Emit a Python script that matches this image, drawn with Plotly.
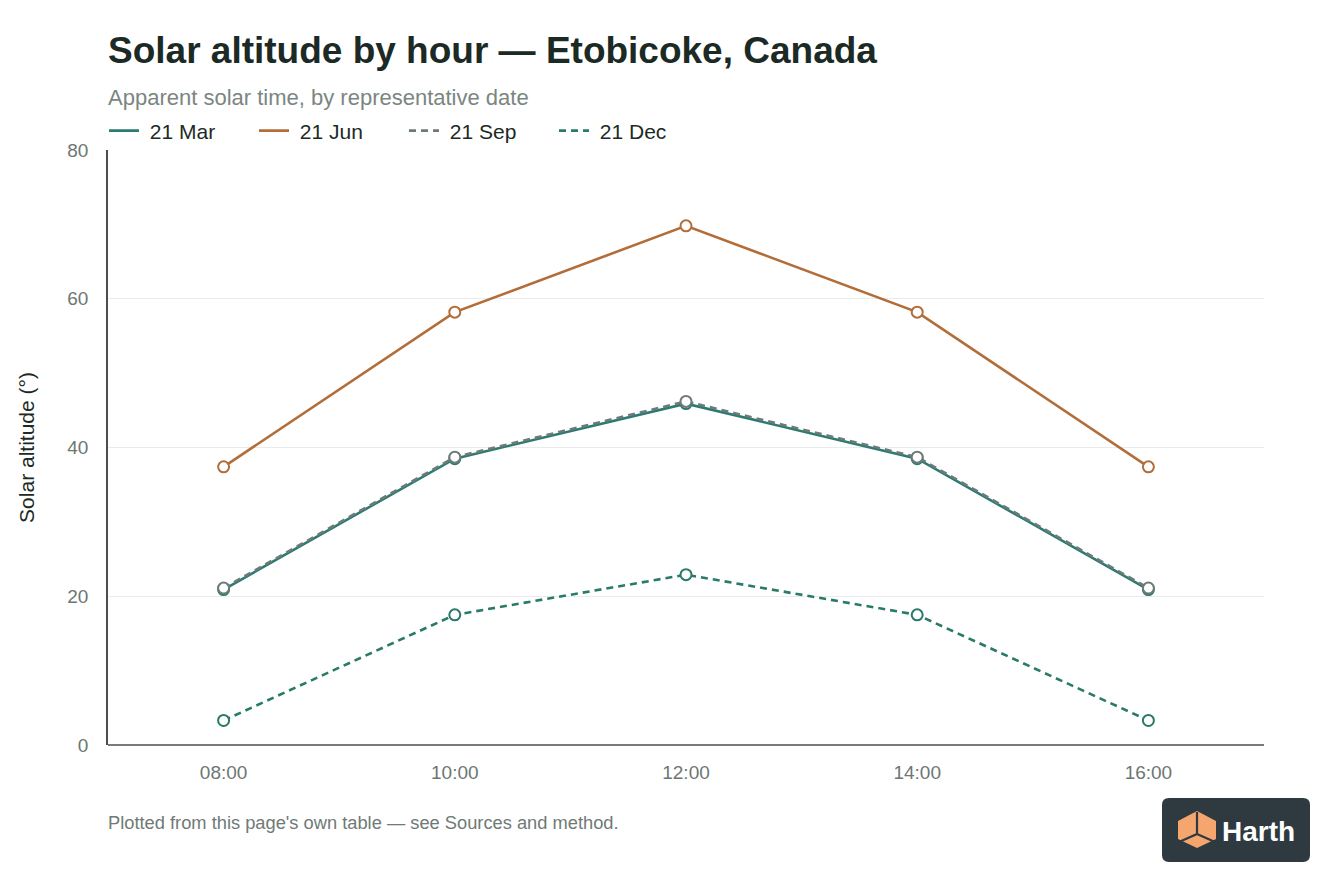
import plotly.graph_objects as go

hours = ["08:00", "10:00", "12:00", "14:00", "16:00"]
series_names = ["21 Mar", "21 Jun", "21 Sep", "21 Dec"]
alt_mar = [20.9, 38.5, 45.9, 38.5, 20.9]
alt_jun = [37.4, 58.2, 69.8, 58.2, 37.4]
alt_sep = [21.1, 38.7, 46.2, 38.7, 21.1]
alt_dec = [3.3, 17.5, 22.9, 17.5, 3.3]
y_ticks = [0, 20, 40, 60, 80]

colors = ["#2b7b72", "#b26d38", "#6e7a77", "#2a7a69"]
dashes = ["solid", "solid", "7px,5px", "7px,5px"]
values = [alt_mar, alt_jun, alt_sep, alt_dec]

# page body has an 8px margin; work in screen pixels and convert
OFF = 8
W, H = 1344 - 2 * OFF, 896 - 2 * OFF
PL, PR, PT, PB = 108, 1264, 150, 745  # plot area in screen px
L, T = PL - OFF, PT - OFF
R = W - (PR - OFF)
B = H - (PB - OFF)
PW, PH = PR - PL, PB - PT


def px(x):
    return (x - PL) / PW


def py(y):
    return (PB - y) / PH


fig = go.Figure()
for name, vals, c, d in zip(series_names, values, colors, dashes):
    fig.add_trace(go.Scatter(
        x=hours, y=vals, name=name, mode="lines+markers", showlegend=False,
        line=dict(color=c, width=2.6, dash=d),
        marker=dict(size=11, color="white", line=dict(color=c, width=2)),
    ))
for name, c, d in zip(series_names, colors, dashes):
    fig.add_trace(go.Scatter(
        x=[None], y=[None], name="\u00a0" + name, mode="lines",
        line=dict(color=c, width=2.6, dash=d),
    ))

font_main = "Liberation Sans, Arial, sans-serif"

annotations = [
    dict(text="<b>Solar altitude by hour — Etobicoke, Canada</b>", x=px(106), y=py(51),
         xref="paper", yref="paper", xanchor="left", yanchor="middle", showarrow=False,
         font=dict(size=37, color="#1c2a25", family=font_main)),
    dict(text="Apparent solar time, by representative date", x=px(106), y=py(97),
         xref="paper", yref="paper", xanchor="left", yanchor="middle", showarrow=False,
         font=dict(size=22, color="#7b8681", family=font_main)),
    dict(text="Plotted from this page's own table — see Sources and method.", x=px(106), y=py(822),
         xref="paper", yref="paper", xanchor="left", yanchor="middle", showarrow=False,
         font=dict(size=18.3, color="#6f7a76", family=font_main)),
    dict(text="<b>Harth</b>", x=px(1220), y=py(831),
         xref="paper", yref="paper", xanchor="left", yanchor="middle", showarrow=False,
         font=dict(size=28, color="#ffffff", family=font_main)),
]


def rounded_rect(x0, y0, x1, y1, r):
    pts = [
        f"M {px(x0 + r)} {py(y0)}",
        f"L {px(x1 - r)} {py(y0)}",
        f"Q {px(x1)} {py(y0)} {px(x1)} {py(y0 + r)}",
        f"L {px(x1)} {py(y1 - r)}",
        f"Q {px(x1)} {py(y1)} {px(x1 - r)} {py(y1)}",
        f"L {px(x0 + r)} {py(y1)}",
        f"Q {px(x0)} {py(y1)} {px(x0)} {py(y1 - r)}",
        f"L {px(x0)} {py(y0 + r)}",
        f"Q {px(x0)} {py(y0)} {px(x0 + r)} {py(y0)}",
        "Z",
    ]
    return " ".join(pts)


def poly(points):
    return "M " + " L ".join(f"{px(a)} {py(b)}" for a, b in points) + " Z"


shapes = [
    dict(type="path", xref="paper", yref="paper", path=rounded_rect(1162, 798, 1310, 862, 7),
         fillcolor="#2e3a40", line=dict(width=0), layer="above"),
    dict(type="path", xref="paper", yref="paper",
         path=poly([(1197, 811), (1216, 821), (1216, 839), (1197, 848), (1178, 839), (1178, 821)]),
         fillcolor="#f4a66e", line=dict(width=0), layer="above"),
    dict(type="path", xref="paper", yref="paper",
         path=f"M {px(1197)} {py(812)} L {px(1197)} {py(834)} L {px(1179)} {py(842)} M {px(1197)} {py(834)} L {px(1215)} {py(842)}",
         line=dict(color="#2e3a40", width=2.2), layer="above"),
    dict(type="line", xref="paper", yref="paper", x0=0, x1=1, y0=0, y1=0,
         line=dict(color="#4a4f4d", width=1.5), layer="above"),
]

fig.update_layout(
    width=W, height=H,
    margin=dict(l=L, r=R, t=T, b=B),
    paper_bgcolor="white", plot_bgcolor="white",
    font=dict(family=font_main, color="#1c2a25"),
    showlegend=True,
    legend=dict(orientation="h", x=px(104), y=py(131), xanchor="left", yanchor="middle",
                font=dict(size=21, color="#1c2a25"), itemwidth=30, bgcolor="rgba(0,0,0,0)",
                tracegroupgap=0, entrywidth=105),
    xaxis=dict(
        type="category", range=[-0.5, 4.5], showgrid=False, zeroline=False,
        showline=False, ticks="outside", ticklen=10, tickcolor="white",
        tickfont=dict(size=19, color="#6c7773"),
    ),
    yaxis=dict(
        range=[0, 80], tickvals=y_ticks, showgrid=True, gridcolor="#e9eceb", gridwidth=1,
        zeroline=False, showline=True, linecolor="#4a4f4d", linewidth=1.5,
        ticks="outside", ticklen=14, tickcolor="white",
        tickfont=dict(size=19, color="#6c7773"),
        title=dict(text="Solar altitude (°)", font=dict(size=21, color="#1c2a25"), standoff=27),
    ),
    annotations=annotations,
    shapes=shapes,
)

fig.write_html("out.html")
